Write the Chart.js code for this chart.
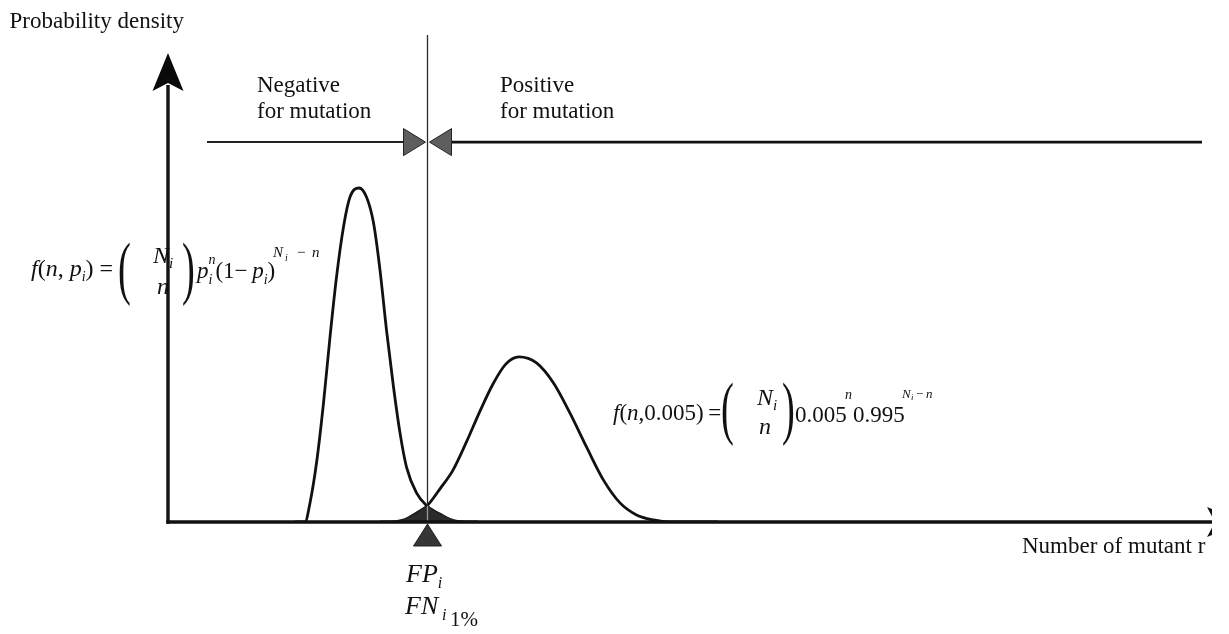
<!DOCTYPE html>
<html>
<head>
<meta charset="utf-8">
<script src="https://cdn.jsdelivr.net/npm/chart.js@4.4.1/dist/chart.umd.min.js"></script>
<style>
html,body{margin:0;padding:0;background:#fff;}
#wrap{position:relative;width:1229px;height:634px;overflow:hidden;background:#fff;}
#c{position:absolute;left:0;top:0;}
.t{position:absolute;white-space:nowrap;font-family:'Liberation Serif','Times New Roman',serif;color:#111;line-height:1;}
</style>
</head>
<body>
<div id="wrap"><canvas id="c" width="1229" height="634" style="width:1229px;height:634px"></canvas></div>
<script>
// ---- data (x: number of mutant reads, y: probability density) ----
const errorReads   = [25.4, 27.4, 28.4, 29.7, 31.1, 32.4, 33.7, 35.1, 36.4, 38.2, 39.7, 41.1, 42.4, 43.7, 45.1, 46.4, 47.7, 49.7, 51.8, 53.2, 54.7, 57.1, 59.4, 62.0];
const errorDensity = [0, 0, 0.0057, 0.0176, 0.0355, 0.0552, 0.0731, 0.0881, 0.0970, 0.0997, 0.0970, 0.0893, 0.0752, 0.0573, 0.0403, 0.0266, 0.0164, 0.0087, 0.0048, 0.0033, 0.0021, 0.0004, 0, 0];

const mutantReads   = [42.4, 45.4, 47.4, 49.1, 50.4, 51.8, 54.4, 57.0, 59.6, 62.4, 65.0, 67.6, 70.2, 73.7, 77.1, 80.4, 83.7, 87.1, 90.4, 93.7, 97.1, 100.4, 110.0];
const mutantDensity = [0, 0.0001, 0.0007, 0.0021, 0.0033, 0.0048, 0.0099, 0.0155, 0.0236, 0.0331, 0.0412, 0.0472, 0.0493, 0.0475, 0.0415, 0.0325, 0.0224, 0.0125, 0.0057, 0.0021, 0.0006, 0, 0];

const overlapReads   = [43.8, 45.4, 47.4, 49.1, 50.4, 51.8, 53.2, 54.7, 57.1, 60.0];
const overlapDensity = [0, 0.0002, 0.0008, 0.0021, 0.0033, 0.0048, 0.0033, 0.0021, 0.0005, 0];

const threshold   = 51.8;    // cut-off between negative / positive for mutation
const regionLevel = 0.1134;  // height of the region bar
const regionStart = 7.8;
const regionEnd   = 206.8;
const xRange = [0, 208];
const yRange = [0, 0.14];

const pts = (xs, ys) => xs.map((v, i) => ({x: v, y: ys[i]}));

// ---- decorations drawn through the scales ----
const decor = {
  id: 'decor',
  afterDatasetsDraw(chart) {
    const {ctx, chartArea: a, scales: {x, y}} = chart;
    const tx = Math.round(x.getPixelForValue(threshold)) + 0.5;
    const cy = y.getPixelForValue(Math.max(...overlapDensity));
    const ry = y.getPixelForValue(regionLevel);
    const tri = (pts, fill, stroke) => {
      ctx.beginPath(); ctx.moveTo(pts[0], pts[1]);
      for (let i = 2; i < pts.length; i += 2) ctx.lineTo(pts[i], pts[i + 1]);
      ctx.closePath(); ctx.fillStyle = fill; ctx.fill();
      if (stroke) { ctx.strokeStyle = stroke; ctx.lineWidth = 1; ctx.stroke(); }
    };
    ctx.save();
    // threshold line
    ctx.strokeStyle = '#2a2a2a'; ctx.lineWidth = 1.3;
    ctx.beginPath(); ctx.moveTo(tx, 35); ctx.lineTo(tx, cy); ctx.stroke();
    ctx.strokeStyle = '#9a9a9a';
    ctx.beginPath(); ctx.moveTo(tx, cy); ctx.lineTo(tx, a.bottom); ctx.stroke();
    // region bar
    ctx.strokeStyle = '#222'; ctx.lineWidth = 2;
    ctx.beginPath();
    ctx.moveTo(x.getPixelForValue(regionStart), ry); ctx.lineTo(tx - 22, ry);
    ctx.stroke();
    ctx.lineWidth = 2.6; ctx.strokeStyle = '#111';
    ctx.beginPath();
    ctx.moveTo(tx + 22, ry); ctx.lineTo(x.getPixelForValue(regionEnd), ry);
    ctx.stroke();
    tri([tx - 24, ry - 13.5, tx - 24, ry + 13.5, tx - 2, ry], '#5e5e5e', '#222');
    tri([tx + 24, ry - 13.5, tx + 24, ry + 13.5, tx + 2, ry], '#5e5e5e', '#222');
    // x axis
    ctx.strokeStyle = '#111'; ctx.lineWidth = 3.4;
    ctx.beginPath(); ctx.moveTo(a.left - 1.7, a.bottom); ctx.lineTo(1212, a.bottom); ctx.stroke();
    ctx.save();
    ctx.beginPath(); ctx.rect(0, 0, 1212, 634); ctx.clip();
    tri([1245, a.bottom, 1207, a.bottom - 15, 1215, a.bottom, 1207, a.bottom + 15], '#111');
    ctx.restore();
    // y axis
    ctx.strokeStyle = '#111'; ctx.lineWidth = 3.4;
    ctx.beginPath(); ctx.moveTo(a.left, a.bottom + 1.7); ctx.lineTo(a.left, a.top + 32); ctx.stroke();
    tri([a.left, a.top, a.left - 15.5, a.top + 38, a.left, a.top + 30, a.left + 15.5, a.top + 38], '#0a0a0a');
    // marker below the axis at the threshold
    tri([tx, a.bottom + 2, tx - 14, a.bottom + 24, tx + 14, a.bottom + 24], '#353535', '#222');
    ctx.restore();
  }
};

new Chart(document.getElementById('c').getContext('2d'), {
  type: 'line',
  data: {
    datasets: [
      {
        data: pts(overlapReads, overlapDensity),
        borderColor: '#262626', backgroundColor: '#2b2b2b', borderWidth: 1,
        fill: 'origin', pointRadius: 0, tension: 0
      },
      {
        data: pts(errorReads, errorDensity),
        borderColor: '#111', borderWidth: 2.8, fill: false, pointRadius: 0,
        cubicInterpolationMode: 'monotone', borderJoinStyle: 'round'
      },
      {
        data: pts(mutantReads, mutantDensity),
        borderColor: '#111', borderWidth: 2.8, fill: false, pointRadius: 0,
        cubicInterpolationMode: 'monotone', borderJoinStyle: 'round'
      }
    ]
  },
  options: {
    responsive: false,
    animation: false,
    devicePixelRatio: 1,
    events: [],
    layout: {padding: {left: 168, right: 21, top: 53, bottom: 112}},
    scales: {
      x: {type: 'linear', display: false, min: xRange[0], max: xRange[1]},
      y: {type: 'linear', display: false, min: yRange[0], max: yRange[1]}
    },
    plugins: {legend: {display: false}, tooltip: {enabled: false}}
  },
  plugins: [decor]
});

// ---- text (HTML overlay) ----
const wrap = document.getElementById('wrap');
function put(html, x, base, size, extra) {
  const d = document.createElement('div');
  d.className = 't';
  d.innerHTML = html;
  d.style.left = x + 'px';
  d.style.top = (base - 0.8375 * size) + 'px';
  d.style.fontSize = size + 'px';
  if (extra) d.style.cssText += extra;
  wrap.appendChild(d);
}
const sb = (t, size, dy) => `<span style="font-size:${size}px;position:relative;top:${dy}px;font-style:italic">${t}</span>`;
const paren = 'transform:scaleX(0.55);transform-origin:0 0;';

put('Probability density', 9.5, 28, 23);
put('Negative', 257, 92, 23);
put('for mutation', 257, 118, 23);
put('Positive', 500, 92, 23);
put('for mutation', 500, 118, 23);

// left formula
put(`<i>f</i>(<i>n</i>, <i>p</i>${sb('i', 14, 5)})&nbsp;=`, 31, 276, 24);
put('(', 118, 292, 70, paren);
put(`<i>N</i>${sb('i', 15, 5)}`, 153, 263, 24);
put('<i>n</i>', 157, 294, 24);
put(')', 182, 292, 70, paren);
put(`<i>p</i>${sb('i', 14, 6)}<span style="font-size:14px;position:relative;top:-14px;font-style:italic;margin-left:-4px">n</span>(1−&thinsp;<i>p</i>${sb('i', 14, 6)})`, 197, 278, 23);
put('<i>N</i>', 273, 258, 15);
put('<i>i</i>', 285, 261, 10);
put('−', 297, 258, 15);
put('<i>n</i>', 312, 258, 15);

// right formula
put(`<i>f</i>(<i>n</i>,0.005)&thinsp;=`, 613, 420, 23);
put('(', 721, 432, 70, paren);
put(`<i>N</i>${sb('i', 15, 5)}`, 757, 405, 24);
put('<i>n</i>', 759, 434, 24);
put(')', 782, 432, 70, paren);
put('0.005', 795, 422, 23);
put('<i>n</i>', 845, 400, 14);
put('0.995', 853, 422, 23);
put('<i>N</i>', 902, 398, 13);
put('<i>i</i>', 911, 401, 9);
put('−', 916, 398, 13);
put('<i>n</i>', 926, 398, 13);

// labels under the axis
put(`<i>FP</i>${sb('i', 16, 6)}`, 406, 583, 26);
put('<i>FN</i>', 405, 615, 26);
put('<i>i</i>', 442, 620, 16);
put('1%', 450, 627, 21);
put('Number of mutant r', 1022, 553, 23);
</script>
</body>
</html>
